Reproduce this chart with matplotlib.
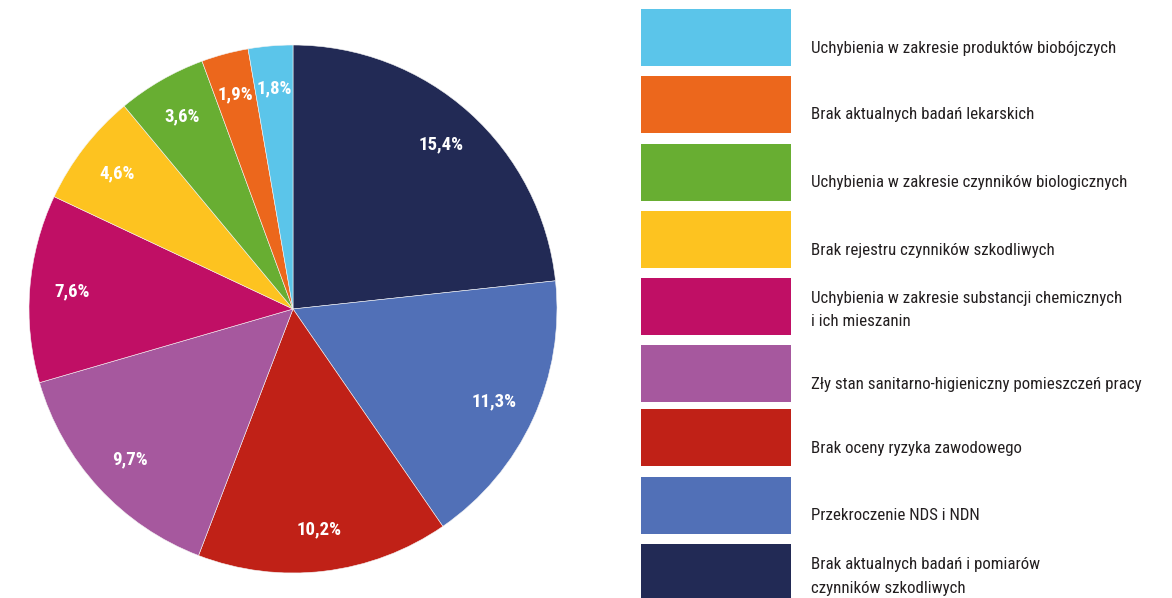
import matplotlib
matplotlib.use("Agg")
import matplotlib.pyplot as plt
from matplotlib.patches import Rectangle

plt.rcParams["font.family"] = ["Roboto Condensed", "DejaVu Sans"]

# slices, clockwise from 12 o'clock
labels = [
    "Brak aktualnych badań i pomiarów\nczynników szkodliwych",
    "Przekroczenie NDS i NDN",
    "Brak oceny ryzyka zawodowego",
    "Zły stan sanitarno-higieniczny pomieszczeń pracy",
    "Uchybienia w zakresie substancji chemicznych\ni ich mieszanin",
    "Brak rejestru czynników szkodliwych",
    "Uchybienia w zakresie czynników biologicznych",
    "Brak aktualnych badań lekarskich",
    "Uchybienia w zakresie produktów biobójczych",
]
values = [15.4, 11.3, 10.2, 9.7, 7.6, 4.6, 3.6, 1.9, 1.8]
colors = ["#222a55", "#5170b7", "#c02117", "#a6589e", "#c00f65",
          "#fdc320", "#68ae32", "#ec671c", "#5bc5ea"]

W, H = 1172, 598
fig = plt.figure(figsize=(W / 100, H / 100), dpi=100)
ax = fig.add_axes([29 / W, (H - 573) / H, 528 / W, 528 / H])

wedges, _, autotexts = ax.pie(
    values, colors=colors, startangle=90, counterclock=False,
    autopct="%1.1f", pctdistance=0.84,
    wedgeprops=dict(edgecolor="#f4f4f4", linewidth=0.4),
)
for t, v in zip(autotexts, values):
    t.set_text(f"{v:.1f}%".replace(".", ","))
    t.set_color("white")
    t.set_fontweight("bold")
    t.set_fontsize(13.5)
ax.set_xlim(-1, 1)
ax.set_ylim(-1, 1)
ax.set_aspect("equal")

# legend boxes on the right, top row = last slice
box_tops = [9, 76, 144, 211, 278, 345, 409, 477, 544]
for i, top in enumerate(box_tops):
    k = len(values) - 1 - i
    fig.patches.append(Rectangle((641 / W, (H - top - 57) / H), 150 / W, 57 / H,
                                 transform=fig.transFigure, facecolor=colors[k],
                                 edgecolor="none"))
    off = 32 if "\n" in labels[k] else 39
    fig.text(811 / W, (H - top - off) / H, labels[k], fontsize=12.2,
             color="#231f20", ha="left", va="center", linespacing=1.75)

fig.savefig("out.png", dpi=100, facecolor="white")
